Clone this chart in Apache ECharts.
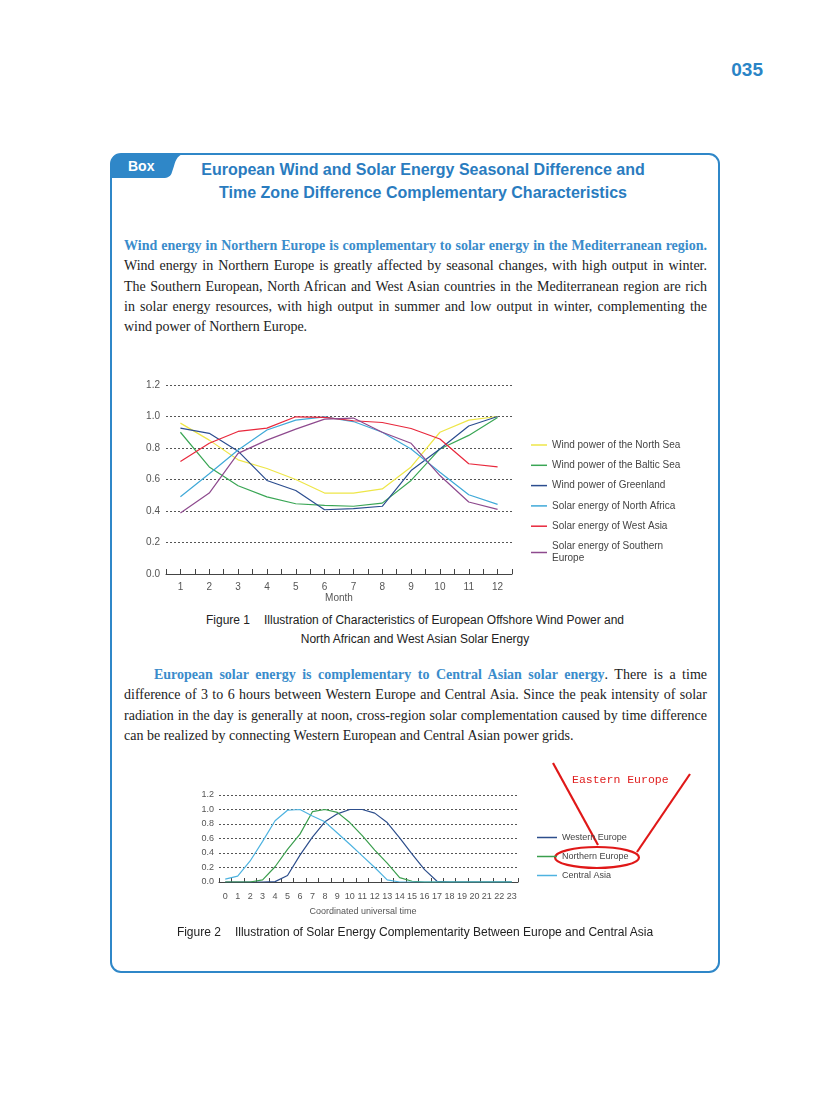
<!DOCTYPE html>
<html>
<head>
<meta charset="utf-8">
<script src="https://cdn.jsdelivr.net/npm/echarts@6/dist/echarts.min.js"></script>
<style>
  html, body { margin:0; padding:0; background:#fff; }
  body { width:816px; height:1100px; position:relative; overflow:hidden; }
  .abs { position:absolute; }
  .pagenum { right:53px; top:60px; font:bold 19px "Liberation Sans", Arial, sans-serif; color:#2a84c6; line-height:20px; }
  .title { left:130px; width:586px; top:158px; text-align:center; font:bold 16px "Liberation Sans", Arial, sans-serif; color:#2a7cbf; line-height:23px; }
  .para { left:124px; width:583px; font-family:"Liberation Serif", "Times New Roman", serif; font-size:14px; color:#222; }
  .jl { text-align:justify; text-align-last:justify; line-height:20.33px; height:20.33px; overflow:visible; }
  .ll { text-align:left; line-height:20.33px; height:20.33px; }
  .hb { color:#3a8ccb; font-weight:bold; }
  .cap { left:130px; width:570px; text-align:center; font:12px "Liberation Sans", Arial, sans-serif; color:#222; line-height:19px; }
  .boxlbl { left:128px; top:156px; font:bold 14px "Liberation Sans", Arial, sans-serif; color:#fff; line-height:20px; }
</style>
</head>
<body>
<script>
// ---------- Data ----------
const months = ['1','2','3','4','5','6','7','8','9','10','11','12'];
const northSea    = [0.958,0.85,0.725,0.67,0.60,0.514,0.514,0.54,0.68,0.90,0.977,1.0];
const baltic      = [0.90,0.68,0.56,0.49,0.446,0.436,0.43,0.45,0.594,0.794,0.88,0.994];
const greenland   = [0.926,0.893,0.78,0.594,0.53,0.408,0.415,0.43,0.657,0.794,0.94,1.0];
const northAfrica = [0.49,0.636,0.787,0.914,0.977,0.998,0.968,0.90,0.794,0.646,0.503,0.442];
const westAsia    = [0.714,0.83,0.905,0.926,0.998,0.994,0.973,0.962,0.924,0.857,0.70,0.68];
const southEurope = [0.387,0.514,0.766,0.85,0.92,0.983,0.99,0.90,0.83,0.625,0.457,0.41];
const fig1Names = ['Wind power of the North Sea','Wind power of the Baltic Sea','Wind power of Greenland','Solar energy of North Africa','Solar energy of West Asia','Solar energy of Southern\nEurope'];
const fig1XName = 'Month';

const hours = ['0','1','2','3','4','5','6','7','8','9','10','11','12','13','14','15','16','17','18','19','20','21','22','23'];
const westernEurope  = [0,0,0,0,0.005,0.09,0.37,0.62,0.83,0.94,1.0,1.0,0.95,0.82,0.61,0.385,0.17,0.01,0,0,0,0,0,0];
const northernEurope = [0,0,0,0.03,0.21,0.45,0.66,0.97,1.0,0.96,0.82,0.64,0.44,0.26,0.06,0.01,0,0,0,0,0,0,0,0];
const centralAsia    = [0.04,0.08,0.29,0.56,0.845,0.99,1.0,0.91,0.83,0.675,0.52,0.36,0.2,0.03,0,0,0,0,0,0,0,0,0,0];
const fig2Names = ['Western Europe','Northern Europe','Central Asia'];
const fig2XName = 'Coordinated universal time';
</script>

<svg class="abs" style="left:0;top:0" width="816" height="1100">
  <rect x="111" y="154" width="608" height="818" rx="10" ry="10" fill="none" stroke="#2f87c8" stroke-width="2"/>
  <path d="M111,164 Q111,154 121,154 L184,154 C178,155 176,159 174,166 L172,172 C171,176 168,178 163,178 L111,178 Z" fill="#2f87c8"/>
</svg>
<div class="abs pagenum">035</div>
<div class="abs boxlbl">Box</div>
<div class="abs title">European Wind and Solar Energy Seasonal Difference and<br>Time Zone Difference Complementary Characteristics</div>

<div class="abs para" style="top:236px">
  <div class="jl hb">Wind energy in Northern Europe is complementary to solar energy in the Mediterranean region.</div>
  <div class="jl">Wind energy in Northern Europe is greatly affected by seasonal changes, with high output in winter.</div>
  <div class="jl">The Southern European, North African and West Asian countries in the Mediterranean region are rich</div>
  <div class="jl">in solar energy resources, with high output in summer and low output in winter, complementing the</div>
  <div class="ll">wind power of Northern Europe.</div>
</div>

<div id="c1" class="abs" style="left:130px;top:370px;width:585px;height:240px"></div>

<div class="abs cap" style="top:611px">Figure 1<span style="display:inline-block;width:14px"></span>Illustration of Characteristics of European Offshore Wind Power and<br>North African and West Asian Solar Energy</div>

<div class="abs para" style="top:665px">
  <div class="jl" style="padding-left:30px"><span class="hb">European solar energy is complementary to Central Asian solar energy</span>. There is a time</div>
  <div class="jl">difference of 3 to 6 hours between Western Europe and Central Asia. Since the peak intensity of solar</div>
  <div class="jl">radiation in the day is generally at noon, cross-region solar complementation caused by time difference</div>
  <div class="ll">can be realized by connecting Western European and Central Asian power grids.</div>
</div>

<div id="c2" class="abs" style="left:180px;top:760px;width:540px;height:165px"></div>

<div class="abs cap" style="top:923px">Figure 2<span style="display:inline-block;width:14px"></span>Illustration of Solar Energy Complementarity Between Europe and Central Asia</div>

<script>
// fit justified lines onto single lines
document.querySelectorAll('.jl').forEach(el => {
  let fs = parseFloat(getComputedStyle(el).fontSize);
  el.style.height = 'auto';
  let guard = 0;
  while (el.getBoundingClientRect().height > 25 && guard < 60) {
    fs -= 0.1; el.style.fontSize = fs + 'px'; guard++;
  }
  el.style.height = '20.33px';
});

const axisGray = '#444';
const gridDot = { color:'#555', type:[2,2], width:1 };

function yAxisCfg(fs, margin) {
  return {
    type:'value', min:0, max:1.2, interval:0.2,
    axisLine:{show:false}, axisTick:{show:false},
    axisLabel:{ fontSize:fs, color:'#555', margin:margin, fontFamily:'Liberation Sans', formatter:v => v.toFixed(1) },
    splitLine:{ show:true, lineStyle:gridDot }
  };
}

// ---------- Figure 1 ----------
const c1 = echarts.init(document.getElementById('c1'), null, {renderer:'canvas'});
const colors1 = ['#eee648','#3aa655','#2b4d8f','#3fa9d8','#e8283c','#8e4a8e'];
const data1 = [northSea, baltic, greenland, northAfrica, westAsia, southEurope];
c1.setOption({
  animation:false,
  color:colors1,
  grid:{ left:36, top:15, width:346, height:189, containLabel:false, outerBoundsMode:'none' },
  legend:{
    orient:'vertical', left:396, top:64, itemWidth:16, itemHeight:1.5, itemGap:8.3,
    icon:'rect', textStyle:{ fontSize:10, color:'#444', fontFamily:'Liberation Sans', lineHeight:12 },
    data:fig1Names
  },
  xAxis:[
    { type:'category', data:months, boundaryGap:true, position:'bottom',
      axisLine:{ show:true, lineStyle:{ color:axisGray, width:1 } },
      axisTick:{ show:true, inside:true, length:5, interval:0, lineStyle:{ color:axisGray, width:1 } },
      axisLabel:{ fontSize:10, color:'#555', margin:8, interval:0, fontFamily:'Liberation Sans' } },
    { type:'category', data:months, boundaryGap:true, position:'bottom',
      axisLine:{ show:false }, axisLabel:{ show:false },
      axisTick:{ show:true, inside:true, length:5, interval:0, alignWithLabel:true, lineStyle:{ color:axisGray, width:1 } } }
  ],
  yAxis:yAxisCfg(10, 6),
  series:data1.map((d,i) => ({
    name:fig1Names[i], type:'line', data:d, xAxisIndex:0, symbol:'none',
    lineStyle:{ width:1.2 }
  })),
  graphic:[
    { type:'text', x:209, y:228, style:{ text:fig1XName, fill:'#555', font:'10px "Liberation Sans"', align:'center', verticalAlign:'middle' } }
  ]
});

// ---------- Figure 2 ----------
const c2 = echarts.init(document.getElementById('c2'), null, {renderer:'canvas'});
const colors2 = ['#2d4e8c','#3a9e4d','#4eb3e0'];
const data2 = [westernEurope, northernEurope, centralAsia];
c2.setOption({
  animation:false,
  color:colors2,
  grid:{ left:39, top:35, width:299, height:87, containLabel:false, outerBoundsMode:'none' },
  legend:{
    orient:'vertical', left:352, top:68, itemWidth:20, itemHeight:1.5, itemGap:10,
    icon:'rect', textStyle:{ fontSize:9, color:'#444', fontFamily:'Liberation Sans' },
    data:fig2Names
  },
  xAxis:{ type:'category', data:hours, boundaryGap:true,
    axisLine:{ show:true, lineStyle:{ color:axisGray, width:1 } },
    axisTick:{ show:true, inside:true, length:4, interval:0, lineStyle:{ color:axisGray, width:1 } },
    axisLabel:{ fontSize:9, color:'#555', margin:10, interval:0, fontFamily:'Liberation Sans' } },
  yAxis:yAxisCfg(9, 5),
  series:data2.map((d,i) => ({
    name:fig2Names[i], type:'line', data:d, symbol:'none', lineStyle:{ width:1.2 }
  })),
  graphic:[
    { type:'text', x:183, y:152, style:{ text:fig2XName, fill:'#555', font:'9px "Liberation Sans"', align:'center', verticalAlign:'middle' } },
    { type:'line', shape:{ x1:373, y1:3, x2:418, y2:85 }, style:{ stroke:'#e01818', lineWidth:2.2 } },
    { type:'line', shape:{ x1:510, y1:14, x2:457, y2:92 }, style:{ stroke:'#e01818', lineWidth:2.2 } },
    { type:'ellipse', shape:{ cx:417, cy:97.5, rx:42, ry:10.5 }, style:{ fill:null, stroke:'#e01818', lineWidth:2.2 } },
    { type:'text', left:392, top:14, style:{ text:'Eastern Europe', fill:'#e02020', font:'11.5px "Liberation Mono", monospace' } }
  ]
});
</script>
</body>
</html>
